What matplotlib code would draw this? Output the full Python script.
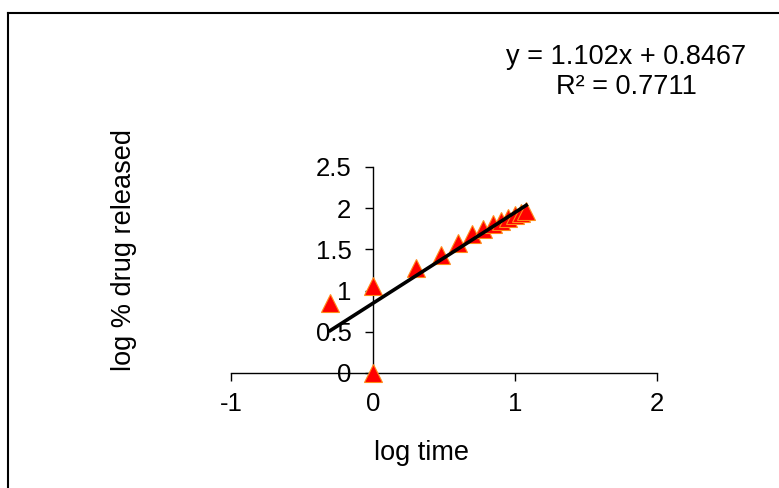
import matplotlib

matplotlib.use("Agg")
import matplotlib.pyplot as plt
import numpy as np
from matplotlib.lines import Line2D

plt.rcParams["font.family"] = ["Liberation Sans", "DejaVu Sans"]
plt.rcParams["axes.unicode_minus"] = False

# log time vs log % drug released
log_time = [-0.301, 0.0, 0.0, 0.301, 0.477, 0.602, 0.699, 0.778, 0.845,
            0.903, 0.954, 1.0, 1.041, 1.079]
log_release = [0.85, 1.06, 0.0, 1.27, 1.43, 1.58, 1.69, 1.75, 1.81,
               1.85, 1.88, 1.92, 1.94, 1.96]

slope = 1.102
intercept = 0.8467
r2 = 0.7711

x_ticks = [-1, 0, 1, 2]
y_ticks = [0, 0.5, 1, 1.5, 2, 2.5]

fig = plt.figure(figsize=(7.79, 4.88), dpi=100)
ax = fig.add_axes([231 / 779, 1 - 373 / 488, 426 / 779, 206 / 488])

ax.set_xlim(-1, 2)
ax.set_ylim(0, 2.5)
ax.spines["top"].set_visible(False)
ax.spines["right"].set_visible(False)
ax.spines["left"].set_position(("data", 0))
for s in ("left", "bottom"):
    ax.spines[s].set_linewidth(1.0)
    ax.spines[s].set_color("black")
ax.set_xticks(x_ticks)
ax.set_yticks(y_ticks)
ax.set_yticklabels(["0", "0.5", "1", "1.5", "2", "2.5"])
ax.tick_params(axis="both", labelsize=18.5, length=6, width=1, direction="out")
ax.tick_params(axis="x", pad=8)
ax.tick_params(axis="y", pad=9.5)

ax.plot(log_time, log_release, linestyle="none", marker="^", markersize=13.5,
        markerfacecolor="#ff0000", markeredgecolor="#ff8c1a",
        markeredgewidth=0.8, zorder=3, clip_on=False)

# linear trendline, drawn over the markers
xs = np.array([min(log_time), max(log_time)])
ax.plot(xs, slope * xs + intercept, color="black", lw=2.6, zorder=4,
        clip_on=False)

fig.text(626 / 779, 1 - 57 / 488, f"y = {slope}x + {intercept}",
         ha="center", va="center", fontsize=19.5)
fig.text(626 / 779, 1 - 87 / 488, f"R² = {r2}",
         ha="center", va="center", fontsize=19.5)

fig.text(421 / 779, 1 - 453 / 488, "log time", ha="center", va="center",
         fontsize=19.5)
fig.text(124 / 779, 1 - 250 / 488, "log % drug released", ha="center",
         va="center", rotation=90, fontsize=19.5)

# chart-area border (runs off the right and bottom edges)
fig.add_artist(Line2D([8 / 779, 1.0], [1 - 13 / 488, 1 - 13 / 488],
                      color="black", lw=1.5, transform=fig.transFigure))
fig.add_artist(Line2D([8 / 779, 8 / 779], [1 - 13 / 488, 0.0],
                      color="black", lw=1.5, transform=fig.transFigure))

fig.savefig("out.png", dpi=100)
